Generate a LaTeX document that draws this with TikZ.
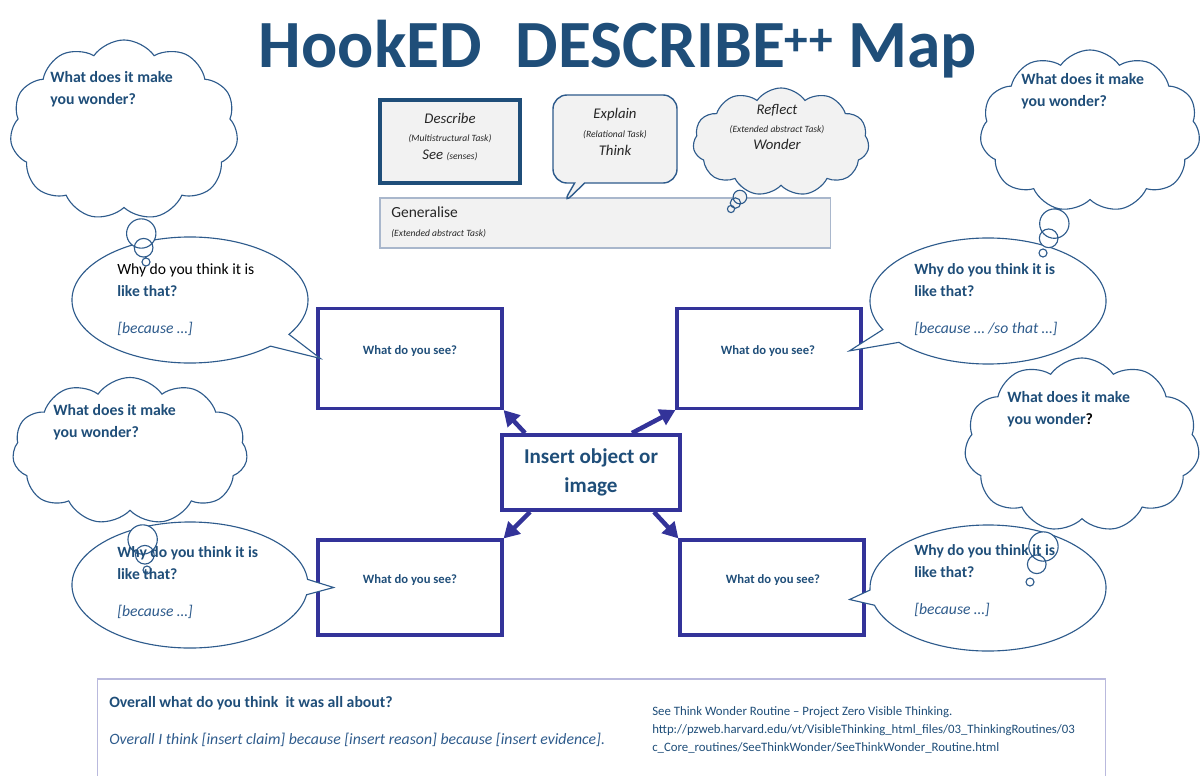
\documentclass[tikz,border=0pt]{standalone}
\usepackage{fontspec}
\setmainfont{Carlito}
\usetikzlibrary{shapes.symbols,shapes.callouts,arrows.meta}

\definecolor{titleblue}{HTML}{1F4E79}
\definecolor{cloudblue}{HTML}{2E5B8C}
\definecolor{boxblue}{HTML}{333399}
\definecolor{panelgray}{HTML}{F2F2F2}
\definecolor{panelline}{HTML}{A9B7CC}
\definecolor{footline}{HTML}{B9B9DD}

\tikzset{
  seebox/.style={draw=boxblue, line width=2.2pt, minimum width=4.6cm, minimum height=2.5cm, inner sep=0pt},
  seetext/.style={font=\fontsize{9}{11}\selectfont\bfseries, text=titleblue},
  spoke/.style={draw=boxblue, line width=3.2pt, -{Triangle[length=11pt,width=12pt]}},
  wonder/.style={cloud callout, cloud puffs=11, cloud puff arc=110, cloud ignores aspect,
    callout pointer segments=3, callout pointer start size=1.4cm and 1cm, callout pointer end size=0.3cm and 0.2cm,
    draw=cloudblue, line width=0.8pt, fill=white, inner sep=0pt},
  why/.style={ellipse callout, callout pointer arc=14, draw=cloudblue, line width=0.8pt,
    fill=white, inner sep=0pt, minimum width=5.9cm, minimum height=3.15cm},
  cloudtext/.style={anchor=north west, align=left, inner sep=0pt,
    font=\fontsize{11.2}{16}\selectfont\bfseries, text=titleblue},
  whytext/.style={anchor=north west, align=left, inner sep=0pt,
    font=\fontsize{11.1}{16}\selectfont\bfseries, text=titleblue},
  legendtext/.style={align=center, inner sep=0pt, font=\fontsize{10.5}{13}\selectfont\itshape, text=black!85},
}
\newcommand{\tasknote}[1]{{\fontsize{6.8}{8}\selectfont #1}}

\begin{document}
\begin{tikzpicture}[x=0.025cm, y=-0.025cm]
  \useasboundingbox (0,0) rectangle (1200,775);

  % Titel
  \node[anchor=base, inner sep=0pt, font=\fontsize{48}{54}\selectfont\bfseries, text=titleblue] (title) at (618,68)
    {HookED\hspace{0.5em}DESCRIBE\textsuperscript{++} Map};

  % Legende oben
  \node[draw=panelline, line width=0.8pt, fill=panelgray, minimum width=11.25cm, minimum height=1.25cm] (generalise) at (605,223) {};
  \node[anchor=north west, align=left, inner sep=0pt, font=\fontsize{11}{13.5}\selectfont, text=black!85] (generalisetext) at (391,206)
    {Generalise\\ \textit{\tasknote{(Extended abstract Task)}}};
  \node[draw=titleblue, line width=2.8pt, fill=panelgray, minimum width=3.5cm, minimum height=2.075cm] (describe) at (450,141.5) {};
  \node[legendtext] (describetext) at (450,137)
    {Describe\\ \tasknote{(Multistructural Task)}\\ See \tasknote{(senses)}};
  \node[rectangle callout, rounded corners=10pt, draw=cloudblue, line width=1pt, fill=panelgray,
    minimum width=3.1cm, minimum height=2.2cm, callout absolute pointer={(562,205)}] (explain) at (615,139) {};
  \node[legendtext] (explaintext) at (615,132)
    {Explain\\ \tasknote{(Relational Task)}\\ Think};
  \node[wonder, fill=panelgray, minimum width=4.4cm, minimum height=2.7cm,
    callout pointer start size=0.6cm and 0.42cm, callout pointer end size=0.25cm and 0.18cm,
    callout absolute pointer={(731,209)}] (reflect) at (781,142) {};
  \node[legendtext, font=\fontsize{10.5}{12.5}\selectfont\itshape] (reflecttext) at (777,127)
    {Reflect\\ \tasknote{(Extended abstract Task)}\\ Wonder};

  % Kästen
  \node[seebox] (tlbox) at (410,358.5) {};
  \node[seebox] (trbox) at (769,358.5) {};
  \node[seebox, minimum height=2.375cm] (blbox) at (410,587.5) {};
  \node[seebox, minimum height=2.375cm] (brbox) at (772,587.5) {};
  \node[seebox, line width=2.8pt, minimum width=4.45cm, minimum height=1.875cm,
    align=center, font=\fontsize{15}{21}\selectfont\bfseries, text=titleblue] (centre) at (591,472.5)
    {Insert object or\\image};

  \node[seetext] (tlsee) at (410,351) {What do you see?};
  \node[seetext] (trsee) at (768,351) {What do you see?};
  \node[seetext] (blsee) at (410,580) {What do you see?};
  \node[seetext] (brsee) at (773,580) {What do you see?};

  % Pfeile
  \draw[spoke] ([xshift=0.625cm]centre.north west) -- (tlbox.south east);
  \draw[spoke] ([xshift=-1.25cm]centre.north east) -- (trbox.south west);
  \draw[spoke] ([xshift=0.75cm]centre.south west) -- (blbox.north east);
  \draw[spoke] ([xshift=-0.7cm]centre.south east) -- (brbox.north west);

  % Sprechblasen
  \node[why, callout absolute pointer={([xshift=0.1cm]tlbox.west)}] (tlwhy) at (190,300) {};
  \node[why, callout absolute pointer={([xshift=-0.33cm,yshift=0.19cm]trbox.east)}] (trwhy) at (988,301) {};
  \node[why, callout absolute pointer={([xshift=0.43cm]blbox.west)}] (blwhy) at (190,585) {};
  \node[why, callout absolute pointer={([xshift=-0.4cm,yshift=-0.3cm]brbox.east)}] (brwhy) at (988,588) {};

  % Gedankenwolken
  \node[wonder, minimum width=5.7cm, minimum height=4.5cm, callout absolute pointer={(146,262)}] (tlcloud) at (124,130) {};
  \node[wonder, minimum width=5.5cm, minimum height=4.05cm, callout absolute pointer={(1043,253)}] (trcloud) at (1090,131) {};
  \node[wonder, minimum width=5.875cm, minimum height=3.675cm, callout absolute pointer={(147,570)}] (mlcloud) at (130,451) {};
  \node[wonder, minimum width=5.875cm, minimum height=4.35cm, callout absolute pointer={(1030,582)}] (mrcloud) at (1082,445) {};

  % Texte
  \node[cloudtext] (tlwonder) at (50,71) {What does it make\\you wonder?};
  \node[cloudtext] (trwonder) at (1021,73) {What does it make\\you wonder?};
  \node[cloudtext] (mlwonder) at (53,404) {What does it make\\you wonder?};
  \node[cloudtext] (mrwonder) at (1007,391) {What does it make\\you wonder\textcolor{black}{?}};

  \node[whytext] (tlwhytext) at (117,263)
    {\textcolor{black}{\mdseries Why do you think it is}\\ like that?\\[10pt] \textcolor{cloudblue}{\mdseries\itshape [because …]}};
  \node[whytext] (trwhytext) at (914,263)
    {Why do you think it is\\ like that?\\[10pt] \textcolor{cloudblue}{\mdseries\itshape [because … /so that …]}};
  \node[whytext] (blwhytext) at (117,546)
    {Why do you think it is\\ like that?\\[10pt] \textcolor{cloudblue}{\mdseries\itshape [because …]}};
  \node[whytext] (brwhytext) at (914,544)
    {Why do you think it is\\ like that?\\[10pt] \textcolor{cloudblue}{\mdseries\itshape [because …]}};

  % Fußzeile
  \node[draw=footline, line width=0.8pt, minimum width=25.175cm, minimum height=3.025cm] (footer) at (601.5,739.5) {};
  \node[anchor=west, inner sep=0pt, font=\fontsize{11.2}{13}\selectfont\bfseries, text=titleblue] (overall) at (109,703)
    {Overall what do you think\ \ it was all about?};
  \node[anchor=west, inner sep=0pt, font=\fontsize{11.2}{13}\selectfont\itshape, text=cloudblue] (claim) at (109,740)
    {Overall I think [insert claim] because [insert reason] because [insert evidence].};
  \node[anchor=north west, align=left, inner sep=0pt, font=\fontsize{9.1}{12.8}\selectfont, text=titleblue] (source) at (652,706)
    {See Think Wonder Routine – Project Zero Visible Thinking.\\
     http://pzweb.harvard.edu/vt/VisibleThinking\_html\_files/03\_ThinkingRoutines/03\\
     c\_Core\_routines/SeeThinkWonder/SeeThinkWonder\_Routine.html};
\end{tikzpicture}
\end{document}
